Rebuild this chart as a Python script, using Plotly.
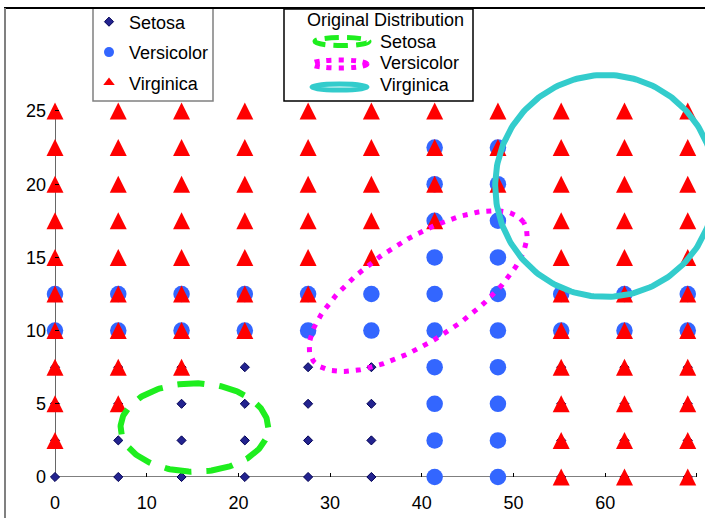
import math
import plotly.graph_objects as go

# ---------------- data ----------------
setosa_x = [0, 6.9, 13.8, 20.7, 27.6, 34.5, 41.4, 48.3, 55.2, 62.1, 69.0,
            0, 6.9, 13.8, 20.7, 27.6, 34.5, 41.4, 48.3, 55.2, 62.1, 69.0,
            0, 6.9, 13.8, 20.7, 27.6, 34.5, 41.4, 48.3, 55.2, 62.1, 69.0,
            0, 6.9, 13.8, 20.7, 27.6, 34.5, 41.4, 48.3, 55.2, 62.1, 69.0]
setosa_y = [0, 0, 0, 0, 0, 0, 0, 0, 0, 0, 0,
            2.5, 2.5, 2.5, 2.5, 2.5, 2.5, 2.5, 2.5, 2.5, 2.5, 2.5,
            5, 5, 5, 5, 5, 5, 5, 5, 5, 5, 5,
            7.5, 7.5, 7.5, 7.5, 7.5, 7.5, 7.5, 7.5, 7.5, 7.5, 7.5]

versicolor_x = [41.4, 48.3,
                41.4, 48.3,
                41.4, 48.3,
                41.4, 48.3,
                0, 6.9, 13.8, 20.7, 27.6, 34.5, 41.4, 48.3, 55.2, 62.1, 69.0,
                0, 6.9, 13.8, 20.7, 27.6, 34.5, 41.4, 48.3, 55.2, 62.1, 69.0,
                41.4, 48.3,
                41.4, 48.3,
                41.4, 48.3,
                41.4, 48.3]
versicolor_y = [0, 0,
                2.5, 2.5,
                5, 5,
                7.5, 7.5,
                10, 10, 10, 10, 10, 10, 10, 10, 10, 10, 10,
                12.5, 12.5, 12.5, 12.5, 12.5, 12.5, 12.5, 12.5, 12.5, 12.5, 12.5,
                15, 15,
                17.5, 17.5,
                20, 20,
                22.5, 22.5]

virginica_x = [55.2, 62.1, 69.0,
               0, 55.2, 62.1, 69.0,
               0, 6.9, 55.2, 62.1, 69.0,
               0, 6.9, 13.8, 55.2, 62.1, 69.0,
               0, 6.9, 13.8, 20.7, 55.2, 62.1, 69.0,
               0, 6.9, 13.8, 20.7, 27.6, 55.2, 62.1, 69.0,
               0, 6.9, 13.8, 20.7, 27.6, 34.5, 55.2, 62.1, 69.0,
               0, 6.9, 13.8, 20.7, 27.6, 34.5, 41.4, 55.2, 62.1, 69.0,
               0, 6.9, 13.8, 20.7, 27.6, 34.5, 41.4, 48.3, 55.2, 62.1, 69.0,
               0, 6.9, 13.8, 20.7, 27.6, 34.5, 41.4, 48.3, 55.2, 62.1, 69.0,
               0, 6.9, 13.8, 20.7, 27.6, 34.5, 41.4, 48.3, 55.2, 62.1, 69.0]
virginica_y = [0, 0, 0,
               2.5, 2.5, 2.5, 2.5,
               5, 5, 5, 5, 5,
               7.5, 7.5, 7.5, 7.5, 7.5, 7.5,
               10, 10, 10, 10, 10, 10, 10,
               12.5, 12.5, 12.5, 12.5, 12.5, 12.5, 12.5, 12.5,
               15, 15, 15, 15, 15, 15, 15, 15, 15,
               17.5, 17.5, 17.5, 17.5, 17.5, 17.5, 17.5, 17.5, 17.5, 17.5,
               20, 20, 20, 20, 20, 20, 20, 20, 20, 20, 20,
               22.5, 22.5, 22.5, 22.5, 22.5, 22.5, 22.5, 22.5, 22.5, 22.5, 22.5,
               25, 25, 25, 25, 25, 25, 25, 25, 25, 25, 25]

x_tick_vals = [0, 10, 20, 30, 40, 50, 60, 70]
y_tick_vals = [0, 5, 10, 15, 20, 25]

# "Original distribution" ellipses (data units): center, two conjugate semi-axis vectors
setosa_center = (15.2, 3.38)
setosa_axis_a = (8.05, 0.0)
setosa_axis_b = (0.0, 3.02)
versicolor_center = (39.6, 12.7)
versicolor_axis_a = (11.52, 4.69)
versicolor_axis_b = (-2.97, 2.86)
virginica_center = (60.0, 19.88)
virginica_axis_a = (12.0, 0.0)
virginica_axis_b = (0.0, 7.58)

# ---------------- layout geometry ----------------
W, H = 705, 518
ML, MR, MT, MB = 55, 0, 70, 41
PW, PH = W - ML - MR, H - MT - MB
X_RANGE = [0, 70.88]
Y_RANGE = [0, 27.8]
FONT = "Liberation Sans, Arial, sans-serif"
NAVY, BLUE, RED = "#23238F", "#3366FF", "#FF0000"
GREEN, MAGENTA, CYAN = "#1EEE1E", "#FF00FF", "#33CCCC"


def px_x(px):
    return (px - ML) / PW


def px_y(py):
    return (H - MB - py) / PH


def ellipse(center, a, b, n=241):
    xs, ys = [], []
    for i in range(n):
        t = 2 * math.pi * i / (n - 1)
        xs.append(center[0] + a[0] * math.cos(t) + b[0] * math.sin(t))
        ys.append(center[1] + a[1] * math.cos(t) + b[1] * math.sin(t))
    return xs, ys


fig = go.Figure()

fig.add_trace(go.Scatter(
    x=setosa_x, y=setosa_y, mode="markers", name="Setosa", legendgroup="s",
    marker=dict(symbol="diamond", size=7, color=NAVY,
                line=dict(color="#000055", width=1)),
    cliponaxis=False))
fig.add_trace(go.Scatter(
    x=versicolor_x, y=versicolor_y, mode="markers", name="Versicolor", legendgroup="v",
    showlegend=False,
    marker=dict(symbol="circle", size=16.5, color=BLUE, line=dict(width=0)),
    cliponaxis=False))
fig.add_trace(go.Scatter(
    x=virginica_x, y=virginica_y, mode="markers", name="Virginica", legendgroup="g",
    showlegend=False,
    marker=dict(symbol="arrow-down", angle=180, standoff=8.5, size=17,
                color=RED, line=dict(width=0)),
    cliponaxis=False))

ex, ey = ellipse(setosa_center, setosa_axis_a, setosa_axis_b)
fig.add_trace(go.Scatter(x=ex, y=ey, mode="lines", showlegend=False, hoverinfo="skip",
                         line=dict(color=GREEN, width=6, dash="27px,15px")))
ex, ey = ellipse(versicolor_center, versicolor_axis_a, versicolor_axis_b)
fig.add_trace(go.Scatter(x=ex, y=ey, mode="lines", showlegend=False, hoverinfo="skip",
                         line=dict(color=MAGENTA, width=5, dash="5px,7px")))
ex, ey = ellipse(virginica_center, virginica_axis_a, virginica_axis_b)
fig.add_trace(go.Scatter(x=ex, y=ey, mode="lines", showlegend=False, hoverinfo="skip",
                         line=dict(color=CYAN, width=6)))

# legend entries (legend-sized symbols for the two big markers)
fig.add_trace(go.Scatter(x=[None], y=[None], mode="markers", name="Versicolor",
                         legendgroup="v", marker=dict(symbol="circle", size=10, color=BLUE)))
fig.add_trace(go.Scatter(x=[None], y=[None], mode="markers", name="Virginica",
                         legendgroup="g", marker=dict(symbol="triangle-up", size=10, color=RED)))

shapes = [
    # axis lines
    dict(type="line", xref="x", yref="y", x0=0, x1=70, y0=0, y1=0,
         line=dict(color="black", width=1.2), layer="below"),
    dict(type="line", xref="x", yref="y", x0=0, x1=0, y0=0, y1=25,
         line=dict(color="black", width=1.2), layer="below"),
    # first legend box
    dict(type="rect", xref="paper", yref="paper", x0=px_x(93), x1=px_x(213),
         y0=px_y(8), y1=px_y(101), line=dict(color="#808080", width=1.5),
         fillcolor="white", layer="above"),
    # second legend box
    dict(type="rect", xref="paper", yref="paper", x0=px_x(284), x1=px_x(473),
         y0=px_y(9), y1=px_y(101), line=dict(color="black", width=1.5),
         fillcolor="white", layer="above"),
    # chart frame
    dict(type="line", xref="paper", yref="paper", x0=px_x(4), x1=px_x(710),
         y0=px_y(8), y1=px_y(8), line=dict(color="black", width=2)),
    dict(type="line", xref="paper", yref="paper", x0=px_x(5), x1=px_x(5),
         y0=px_y(8), y1=px_y(525), line=dict(color="#808080", width=2)),
    # second legend samples
    dict(type="circle", xref="paper", yref="paper", x0=px_x(315), x1=px_x(369),
         y0=px_y(37.5), y1=px_y(45.5), line=dict(color=GREEN, width=5, dash="14px,8px")),
    dict(type="circle", xref="paper", yref="paper", x0=px_x(312), x1=px_x(367),
         y0=px_y(60), y1=px_y(68), line=dict(color=MAGENTA, width=5, dash="5px,7px")),
    dict(type="circle", xref="paper", yref="paper", x0=px_x(312), x1=px_x(367),
         y0=px_y(84), y1=px_y(90), line=dict(color=CYAN, width=5)),
]

annotations = [
    dict(text="Original Distribution", x=px_x(305), y=px_y(20)),
    dict(text="Setosa", x=px_x(378), y=px_y(41.7)),
    dict(text="Versicolor", x=px_x(378), y=px_y(63.3)),
    dict(text="Virginica", x=px_x(378), y=px_y(85)),
]
for a in annotations:
    a.update(xref="paper", yref="paper", xanchor="left", yanchor="middle",
             showarrow=False, font=dict(family=FONT, size=18, color="black"))

fig.update_layout(
    width=W, height=H,
    margin=dict(l=ML, r=MR, t=MT, b=MB, pad=0, autoexpand=False),
    paper_bgcolor="white", plot_bgcolor="white",
    font=dict(family=FONT, size=18, color="black"),
    showlegend=True,
    legend=dict(x=px_x(89), y=px_y(3.5), xanchor="left", yanchor="top",
                borderwidth=0, bgcolor="rgba(0,0,0,0)",
                font=dict(family=FONT, size=18, color="black"),
                tracegroupgap=4, itemsizing="trace"),
    xaxis=dict(range=X_RANGE, tickmode="array", tickvals=x_tick_vals,
               showgrid=False, zeroline=False, showline=False,
               ticks="inside", ticklen=4, tickcolor="black",
               tickfont=dict(family=FONT, size=18), automargin=False,
               ticklabelstandoff=13),
    yaxis=dict(range=Y_RANGE, tickmode="array", tickvals=y_tick_vals,
               showgrid=False, zeroline=False, showline=False,
               ticks="inside", ticklen=4, tickcolor="black",
               tickfont=dict(family=FONT, size=18), automargin=False,
               ticklabelstandoff=8),
    shapes=shapes,
    annotations=annotations,
)

fig.write_html("out.html", config={"displayModeBar": False},
               post_script="document.body.style.margin='0px';")
